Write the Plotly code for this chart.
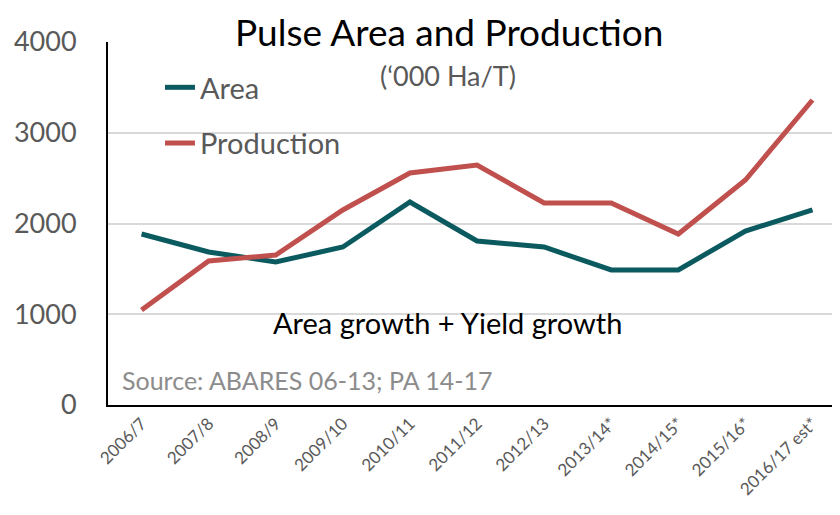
import plotly.graph_objects as go

seasons = ["2006/7", "2007/8", "2008/9", "2009/10", "2010/11", "2011/12",
           "2012/13", "2013/14*", "2014/15*", "2015/16*", "2016/17 est*"]
area = [1884, 1686, 1576, 1741, 2237, 1807, 1741, 1488, 1488, 1917, 2149]
production = [1047, 1587, 1653, 2149, 2556, 2645, 2226, 2226, 1884, 2479, 3361]
y_ticks = [0, 1000, 2000, 3000, 4000]

FONT = "Lato"
GREY = "#595959"

fig = go.Figure()
fig.add_trace(go.Scatter(x=seasons, y=area, name="Area", mode="lines",
                         line=dict(color="#0B5A5F", width=5), legendgroup="a"))
fig.add_trace(go.Scatter(x=seasons, y=production, name="Production", mode="lines",
                         line=dict(color="#C0504D", width=5), legendgroup="p"))

# page body has an 8px margin, so the figure is 8px smaller than the window
fig.update_layout(
    width=832, height=507,
    margin=dict(l=100, r=0, t=34, b=110),
    plot_bgcolor="white", paper_bgcolor="white",
    font=dict(family=FONT, color=GREY),
    showlegend=True,
    legend=dict(x=0.071, y=0.945, xanchor="left", yanchor="top",
                font=dict(size=29, color=GREY), tracegroupgap=15,
                bgcolor="rgba(0,0,0,0)"),
    xaxis=dict(type="category", range=[-0.5, 10.41], showgrid=False,
               showline=True, linecolor="black", linewidth=2, automargin=False,
               tickangle=-45, tickfont=dict(size=17, color=GREY), ticks=""),
    yaxis=dict(range=[0, 4000], tickvals=y_ticks, showgrid=True,
               gridcolor="#D9D9D9", gridwidth=1.5, zeroline=False, automargin=False,
               showline=True, linecolor="black", linewidth=2,
               tickfont=dict(size=27, color=GREY), ticklabelstandoff=24),
)

fig.add_annotation(text="Pulse Area and Production", xref="paper", yref="paper",
                   x=0.466, y=1.028, xanchor="center", yanchor="middle",
                   showarrow=False, font=dict(size=37, color="black"))
fig.add_annotation(text="(‘000 Ha/T)", xref="paper", yref="paper",
                   x=0.465, y=0.908, xanchor="center", yanchor="middle",
                   showarrow=False, font=dict(size=27, color=GREY))
fig.add_annotation(text="Area growth + Yield growth", xref="paper", yref="paper",
                   x=0.464, y=0.228, xanchor="center", yanchor="middle",
                   showarrow=False, font=dict(size=29, color="black"))
fig.add_annotation(text="Source: ABARES 06-13; PA 14-17", xref="paper", yref="paper",
                   x=0.016, y=0.07, xanchor="left", yanchor="middle",
                   showarrow=False, font=dict(size=25, color="#8C8C8C"))

fig.write_html("out.html")
